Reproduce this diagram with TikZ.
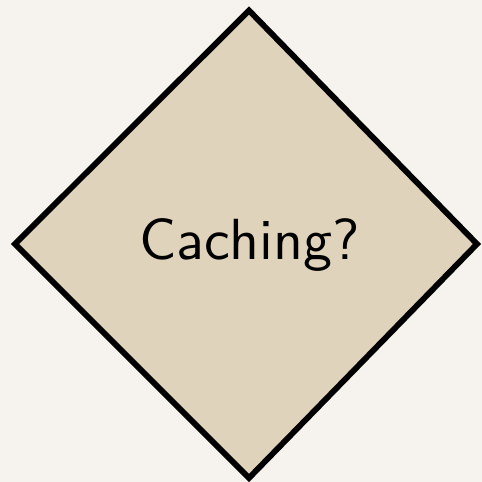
\documentclass[tikz,border=0pt]{standalone}
\usepackage{tikz}
\usepackage{fontspec}
\newfontfamily\lmsten{lmsans10-regular.otf}
\definecolor{bgcol}{HTML}{F6F3EE}
\definecolor{diafill}{HTML}{E0D3BC}
\tikzset{
  decision/.style={draw=black, fill=diafill, line width=5.8pt, line join=miter},
  lbl/.style={font=\lmsten\fontsize{58}{60}\selectfont, text=black, inner sep=0pt}
}
\begin{document}
\begin{tikzpicture}[x=1pt,y=1pt]
  \fill[bgcol] (0,0) rectangle (482,482);
  \useasboundingbox (0,0) rectangle (482,482);
  \coordinate (T) at (249,{482-10.5});
  \coordinate (L) at (15,{482-244});
  \coordinate (B) at (249,{482-478});
  \coordinate (R) at (477,{482-244});
  \draw[decision] (T) -- (R) -- (B) -- (L) -- cycle;
  \node[lbl, anchor=base] (q) at (249.5,{482-259.5}) {Caching?};
\end{tikzpicture}
\end{document}
